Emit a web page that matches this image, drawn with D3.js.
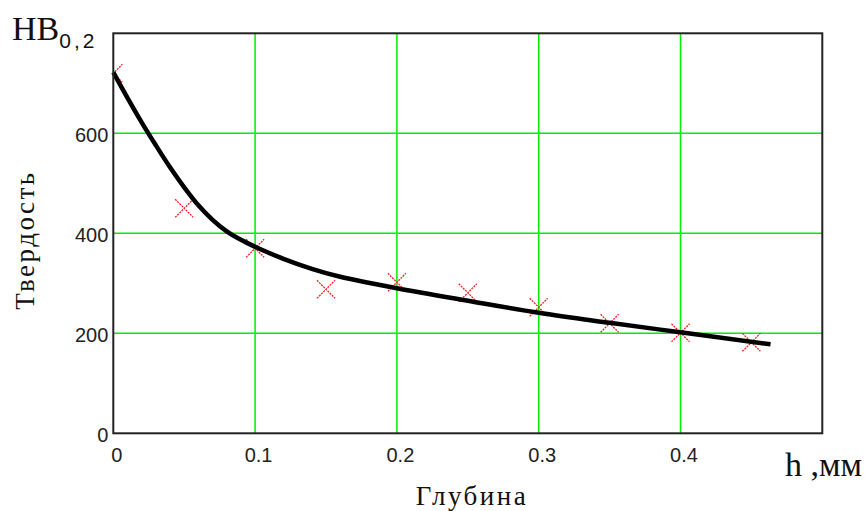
<!DOCTYPE html>
<meta charset="utf-8">
<html>
<head>
<script src="https://d3js.org/d3.v7.min.js"></script>
<style>
  body { margin: 0; background: #fff; }
  svg { display: block; }
</style>
</head>
<body>
<div id="chart"></div>
<script>

// measured points (red crosses)
var hPts  = [0, 0.05, 0.1, 0.15, 0.2, 0.25, 0.3, 0.35, 0.4, 0.45];
var hbPts = [720, 450, 370, 288, 302, 281, 252, 220, 201, 182];

// fitted curve
var hFit  = [0, 0.01, 0.02, 0.03, 0.04, 0.05, 0.06, 0.07, 0.08, 0.09, 0.1,
             0.12, 0.14, 0.16, 0.18, 0.2, 0.25, 0.3, 0.35, 0.4, 0.4635];
var hbFit = [722, 671, 622, 576, 532, 492, 456, 427, 404, 387, 373,
             349, 329, 313, 301, 290, 265, 241, 221, 202, 178];

// tick labels
var xTicks = [0, 0.1, 0.2, 0.3, 0.4];
var yTicks = [0, 200, 400, 600];

var W = 867, H = 511;
var pLeft = 113.3, pRight = 822.3, pTop = 33.3, pBottom = 433.3;

var svg = d3.select("#chart").append("svg")
    .attr("width", W)
    .attr("height", H);

var x = d3.scaleLinear().domain([0, 0.5]).range([pLeft, pRight]);
var y = d3.scaleLinear().domain([0, 800]).range([pBottom, pTop]);

svg.append("defs").append("clipPath").attr("id", "plot")
  .append("rect")
    .attr("x", pLeft).attr("y", pTop)
    .attr("width", pRight - pLeft).attr("height", pBottom - pTop);

// green grid
var grid = svg.append("g").attr("stroke", "#00ee00").attr("stroke-width", 1.5);
grid.selectAll("line.vx")
  .data(xTicks.slice(1))
  .enter().append("line")
    .attr("x1", function(d) { return x(d); })
    .attr("x2", function(d) { return x(d); })
    .attr("y1", pTop).attr("y2", pBottom);
grid.selectAll("line.hy")
  .data(yTicks.slice(1))
  .enter().append("line")
    .attr("y1", function(d) { return y(d); })
    .attr("y2", function(d) { return y(d); })
    .attr("x1", pLeft).attr("x2", pRight);

// red crosses
var s = 9;
var pts = svg.append("g").attr("clip-path", "url(#plot)")
    .attr("stroke", "#ff2020").attr("stroke-width", 1.3)
    .attr("stroke-dasharray", "2,1");
pts.selectAll("path")
  .data(hPts.map(function(h, i) { return [h, hbPts[i]]; }))
  .enter().append("path")
    .attr("fill", "none")
    .attr("d", function(d) {
      var cx = x(d[0]), cy = y(d[1]);
      return "M" + (cx - s) + "," + (cy - s) + "L" + (cx + s) + "," + (cy + s) +
             "M" + (cx - s) + "," + (cy + s) + "L" + (cx + s) + "," + (cy - s);
    });

// black fit curve
var line = d3.line()
    .x(function(d) { return x(d[0]); })
    .y(function(d) { return y(d[1]); })
    .curve(d3.curveMonotoneX);
svg.append("path")
    .datum(hFit.map(function(h, i) { return [h, hbFit[i]]; }))
    .attr("fill", "none")
    .attr("stroke", "#000")
    .attr("stroke-width", 4.5)
    .attr("stroke-linejoin", "round")
    .attr("d", line);

// frame
svg.append("rect")
    .attr("x", pLeft).attr("y", pTop)
    .attr("width", pRight - pLeft).attr("height", pBottom - pTop)
    .attr("fill", "none").attr("stroke", "#222").attr("stroke-width", 2);

// axes (labels only)
var xAxis = svg.append("g")
    .attr("transform", "translate(3," + pBottom + ")")
    .call(d3.axisBottom(x).tickValues(xTicks).tickSize(0).tickPadding(15)
      .tickFormat(function(d) { return String(d); }));
xAxis.select(".domain").remove();
xAxis.selectAll("text")
    .attr("font-family", "Liberation Sans, Arial, sans-serif")
    .attr("font-size", 20).attr("fill", "#222");

var yAxis = svg.append("g")
    .attr("transform", "translate(" + (pLeft - 5) + ",2)")
    .call(d3.axisLeft(y).tickValues(yTicks).tickSize(0).tickPadding(0));
yAxis.select(".domain").remove();
yAxis.selectAll("text")
    .attr("font-family", "Liberation Sans, Arial, sans-serif")
    .attr("font-size", 20).attr("fill", "#222");

// titles
var hb = svg.append("text")
    .attr("x", 12).attr("y", 40)
    .attr("font-family", "Liberation Serif, Times New Roman, serif")
    .attr("font-size", 34).attr("fill", "#111");
hb.append("tspan").text("HB");
hb.append("tspan").attr("dy", 8)
    .attr("font-family", "Liberation Sans, Arial, sans-serif")
    .attr("font-size", 21).attr("letter-spacing", 3)
    .text("0,2");

svg.append("text")
    .attr("x", 785).attr("y", 476)
    .attr("font-family", "Liberation Serif, Times New Roman, serif")
    .attr("font-size", 34).attr("fill", "#111")
    .text("h ,мм");

svg.append("text")
    .attr("x", 472).attr("y", 505)
    .attr("text-anchor", "middle")
    .attr("font-family", "Liberation Serif, Times New Roman, serif")
    .attr("font-size", 27).attr("letter-spacing", 2.5)
    .attr("fill", "#111")
    .text("Глубина");

svg.append("text")
    .attr("transform", "translate(34,240) rotate(-90)")
    .attr("text-anchor", "middle")
    .attr("font-family", "Liberation Serif, Times New Roman, serif")
    .attr("font-size", 27).attr("letter-spacing", 2.5)
    .attr("fill", "#111")
    .text("Твердость");

</script>
</body>
</html>
